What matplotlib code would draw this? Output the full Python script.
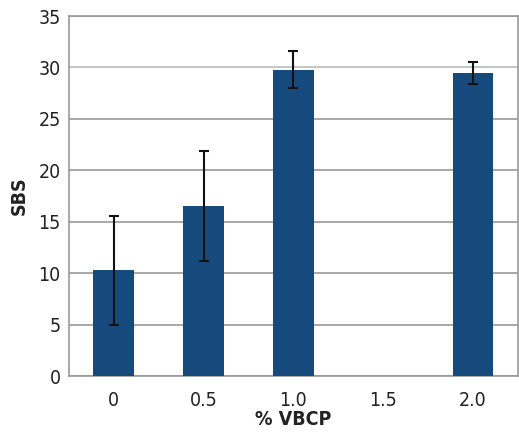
import matplotlib
matplotlib.use("Agg")
import matplotlib.pyplot as plt
import numpy as np

categorias = ["0", "0.5", "1.0", "1.5", "2.0"]
sbs = [10.3, 16.5, 29.8, np.nan, 29.45]
error = [5.3, 5.35, 1.8, np.nan, 1.05]

plt.rcParams['font.family'] = ['Liberation Sans Narrow', 'DejaVu Sans']
plt.rcParams['font.stretch'] = 'condensed'

fig = plt.figure(figsize=(5.19, 4.34), dpi=100)
ax = fig.add_axes([0.133, 0.1336, 0.865, 0.8294])

x = np.arange(len(categorias))
ax.bar(x, sbs, width=0.455, color='#174a7c', zorder=3)
ax.errorbar(x, sbs, yerr=error, fmt='none', ecolor='#111111',
            elinewidth=1.5, capsize=3.5, capthick=1.5, zorder=4)

ax.set_xlim(-0.5, len(categorias) - 0.5)
ax.set_ylim(0, 35)
ax.set_yticks(np.arange(0, 36, 5))
ax.set_xticks(x)
ax.set_xticklabels(categorias)
ax.tick_params(length=0, labelsize=14, colors='#222222')
ax.tick_params(axis='x', pad=11)
ax.tick_params(axis='y', pad=6)

ax.yaxis.grid(True, color='#999999', linewidth=1.2, zorder=0)
# la línea de 30 se ve más clara en el original
ax.get_ygridlines()[6].set_color('#bbbbbb')
for s in ax.spines.values():
    s.set_color('#999999')
    s.set_linewidth(1.2)

ax.set_ylabel('SBS', fontsize=14, fontweight='bold', color='#222222', labelpad=7)
ax.set_xlabel('% VBCP', fontsize=14, fontweight='bold', color='#222222', labelpad=0)

fig.savefig('out.png', dpi=100)
